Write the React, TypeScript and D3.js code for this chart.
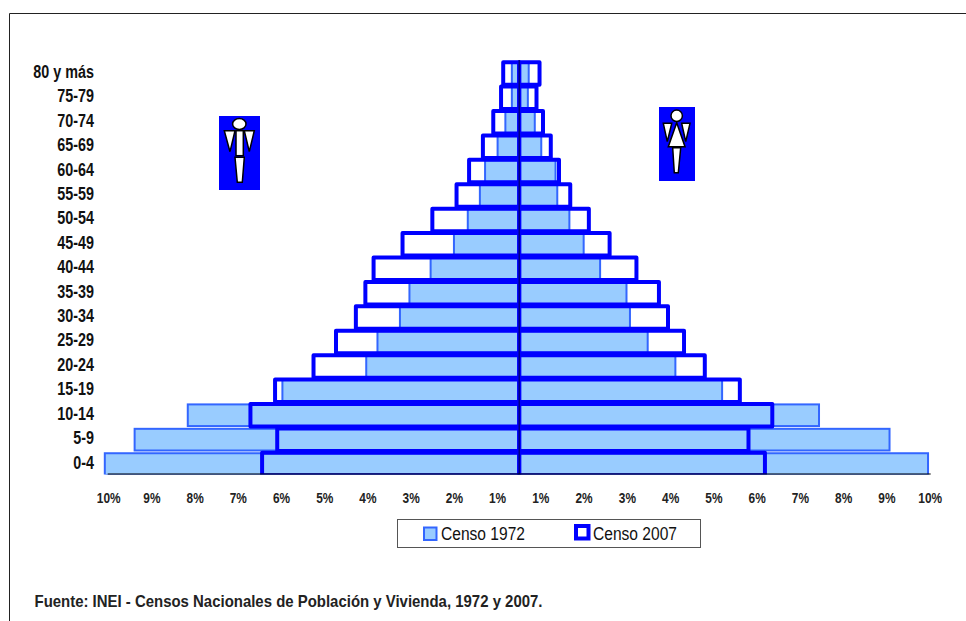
import React from "react";
import * as d3 from "d3";

const ageGroups = ["80 y más","75-79","70-74","65-69","60-64","55-59","50-54","45-49","40-44","35-39","30-34","25-29","20-24","15-19","10-14","5-9","0-4"];
const male1972 = [0.67,0.67,0.82,1.0,1.29,1.41,1.69,2.01,2.55,3.04,3.26,3.78,4.04,5.98,8.17,9.4,10.09];
const female1972 = [0.72,0.7,0.86,1.01,1.34,1.38,1.66,1.99,2.37,2.98,3.06,3.47,4.11,5.19,7.43,9.06,9.95];
const male2007 = [0.87,0.92,1.1,1.34,1.66,1.95,2.51,3.2,3.87,4.06,4.28,4.74,5.26,6.15,6.72,6.1,6.45];
const female2007 = [0.97,0.9,1.05,1.23,1.42,1.68,2.11,2.59,3.21,3.73,3.94,4.31,4.79,5.6,6.35,5.8,6.18];
const tickValues = [10,9,8,7,6,5,4,3,2,1];
const legendLabels = ["Censo 1972","Censo 2007"];
const source = "Fuente: INEI - Censos Nacionales de Población y Vivienda, 1972 y 2007.";

const FONT = "'Liberation Sans',Arial,sans-serif";
const FILL72 = "#99CCFF", LINE72 = "#3366FF", BLUE = "#0000FF";
const CENTER = 519.2;
const NARROW = 0.82;

const xLeft = d3.scaleLinear().domain([0.5, 10]).range([CENTER, 108.7]);
const xRight = d3.scaleLinear().domain([0.5, 10]).range([CENTER, 930.2]);
const y = d3.scaleBand<string>().domain(ageGroups).range([62.2, 475.3]).paddingInner(0.08).paddingOuter(0);

type Scale = d3.ScaleLinear<number, number>;

function bar(scale: Scale, v: number, age: string, inset: number) {
  const a = CENTER, b = scale(v);
  const top = y(age)! + inset;
  return { x: Math.min(a, b), y: top, width: Math.abs(b - a), height: y.bandwidth() - inset * 2 };
}

function Label(props: { x: number; y: number; size: number; bold?: boolean; anchor?: "start" | "middle" | "end"; fill?: string; children: string }) {
  return (
    <text transform={`translate(${props.x},${props.y}) scale(${NARROW},1)`} textAnchor={props.anchor ?? "start"}
      fontFamily={FONT} fontWeight={props.bold ? 700 : 400} fontSize={props.size} fill={props.fill ?? "#111"}>
      {props.children}
    </text>
  );
}

function Person({ female }: { female: boolean }) {
  const st = { fill: "#fff", stroke: "#000", strokeWidth: 1.5, strokeLinejoin: "miter" as const };
  if (female) {
    return (
      <g>
        <rect x={659} y={107} width={36} height={74} fill={BLUE} />
        <circle cx={676.7} cy={115.7} r={5.7} {...st} />
        <path d="M663.3,123.3H671.7L667.3,141.7Z" {...st} />
        <path d="M681.7,123.3H690L685.7,141.7Z" {...st} />
        <path d="M676.7,122.7L685,146.7H668.3Z" {...st} />
        <path d="M672.7,147.7H680.7L678.3,172.7H674.3Z" {...st} />
      </g>
    );
  }
  return (
    <g>
      <rect x={219} y={116} width={41} height={74} fill={BLUE} />
      <ellipse cx={239.3} cy={124} rx={6.7} ry={5.5} {...st} />
      <path d="M224.3,130.7H235L230,151.7Z" {...st} />
      <path d="M244.3,130.7H254.3L249.3,151.7Z" {...st} />
      <rect x={236} y={130.7} width={7.3} height={25} {...st} />
      <path d="M235,157.3H244.3L242.3,182.3H237.3Z" {...st} />
    </g>
  );
}

export default function App() {
  const sides: [Scale, number[], number[]][] = [
    [xLeft, male1972, male2007],
    [xRight, female1972, female2007],
  ];
  return (
    <svg width={966} height={621} style={{ position: "absolute", left: 0, top: 0, background: "#fff" }}>
      <defs>
        <clipPath id="plot"><rect x={90} y={50} width={860} height={424.5} /></clipPath>
      </defs>
      <path d="M966,13.5H9.5V621" fill="none" stroke="#222" strokeWidth={1} />

      <g clipPath="url(#plot)">
        {sides.map(([sc, , v07], s) =>
          ageGroups.map((age, i) => <rect key={`w${s}-${i}`} {...bar(sc, v07[i], age, 0)} fill="#fff" />)
        )}
        {sides.map(([sc, v72], s) =>
          ageGroups.map((age, i) => (
            <rect key={`a${s}-${i}`} {...bar(sc, v72[i], age, 0.4)} fill={FILL72} stroke={LINE72} strokeWidth={2} />
          ))
        )}
        {sides.map(([sc, , v07], s) =>
          ageGroups.map((age, i) => (
            <rect key={`b${s}-${i}`} {...bar(sc, v07[i], age, 0)} fill="none" stroke={BLUE} strokeWidth={4} strokeLinejoin="round" />
          ))
        )}
      </g>

      <line x1={CENTER} x2={CENTER} y1={60} y2={474} stroke="#000066" strokeWidth={1.2} />
      <line x1={107.7} x2={930.7} y1={474} y2={474} stroke="#000" strokeWidth={1.2} />

      {ageGroups.map((age) => (
        <Label key={age} x={94} y={y(age)! + y.bandwidth() / 2 + 4.5} size={17.5} bold anchor="end">{age}</Label>
      ))}

      {tickValues.map((t) => (
        <g key={t}>
          <Label x={xLeft(t)} y={503} size={14.5} bold anchor="middle" fill="#222">{`${t}%`}</Label>
          <Label x={xRight(t)} y={503} size={14.5} bold anchor="middle" fill="#222">{`${t}%`}</Label>
        </g>
      ))}

      <Person female={false} />
      <Person female={true} />

      <rect x={397.5} y={519.5} width={303} height={28} fill="#fff" stroke="#555" strokeWidth={1} />
      <rect x={424} y={527.5} width={12.5} height={12.5} fill={FILL72} stroke={LINE72} strokeWidth={2} />
      <Label x={441} y={540} size={19}>{legendLabels[0]}</Label>
      <rect x={576} y={526} width={12.5} height={12.5} fill="#fff" stroke={BLUE} strokeWidth={4} />
      <Label x={593} y={540} size={19}>{legendLabels[1]}</Label>

      <text x={34.5} y={607} fontFamily={FONT} fontWeight={700} fontSize={16.5} fill="#222"
        textLength={508} lengthAdjust="spacingAndGlyphs">{source}</text>
    </svg>
  );
}
